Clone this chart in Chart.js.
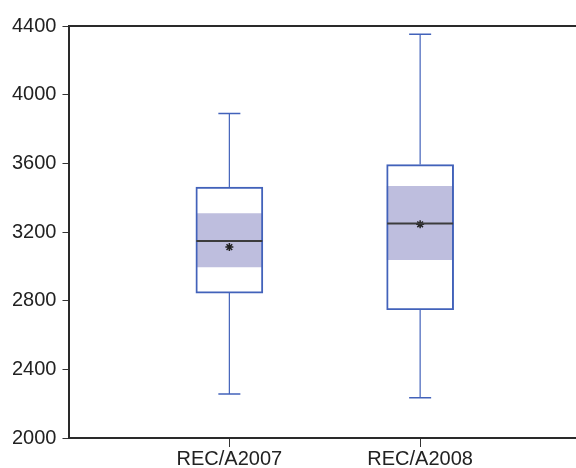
<!DOCTYPE html>
<html>
<head>
<meta charset="utf-8">
<script src="https://cdn.jsdelivr.net/npm/chart.js@4/dist/chart.umd.min.js"></script>
<style>
  html, body { margin: 0; padding: 0; background: #fff; }
  #wrap { width: 576px; height: 468px; position: relative; }
</style>
</head>
<body>
<div id="wrap"><canvas id="c" width="576" height="468"></canvas></div>
<script>
const categories = ['REC/A2007', 'REC/A2008'];
const xPositions = [1, 2];
const whiskerLow = [2257, 2235];
const q1 = [2844, 2747];
const ciLow = [2996, 3039];
const median = [3147, 3249];
const ciHigh = [3307, 3466];
const q3 = [3462, 3593];
const whiskerHigh = [3891, 4352];
const mean = [3112, 3245];
const yTicks = [2000, 2400, 2800, 3200, 3600, 4000, 4400];

const BLUE = 'rgb(66,98,186)';
const SHADE = 'rgb(190,190,222)';
const FONT = 'Liberation Sans, Arial, sans-serif';

function segs(a, b) {
  const out = [];
  xPositions.forEach((x, i) => {
    out.push({x: x, y: a[i]}, {x: x, y: b[i]});
    if (i < xPositions.length - 1) out.push({x: x + 0.5, y: null});
  });
  return out;
}
const pts = arr => xPositions.map((x, i) => ({x: x, y: arr[i]}));

const topBorder = {
  id: 'topBorder',
  afterDraw(chart) {
    const {ctx, chartArea} = chart;
    ctx.save();
    ctx.strokeStyle = '#2a2a2a';
    ctx.lineWidth = 2;
    ctx.beginPath();
    ctx.moveTo(chartArea.left - 1, chartArea.top);
    ctx.lineTo(chartArea.right, chartArea.top);
    ctx.stroke();
    ctx.restore();
  }
};

new Chart(document.getElementById('c'), {
  type: 'bar',
  plugins: [topBorder],
  data: {
    datasets: [
      { type: 'line', label: 'median', data: pts(median), showLine: false,
        pointStyle: 'line', pointRadius: 33, pointBorderColor: '#3c3c3c', pointBorderWidth: 2, order: 0 },
      { type: 'line', label: 'mean', data: pts(mean), showLine: false,
        pointStyle: 'star', pointRadius: 4, pointBorderColor: '#222', pointBorderWidth: 1.5, order: 1 },
      { type: 'bar', label: 'box', data: xPositions.map((x, i) => ({x: x, y: [q1[i], q3[i]]})),
        backgroundColor: 'rgba(0,0,0,0)', borderColor: BLUE, borderWidth: 1.3, borderSkipped: false,
        barThickness: 67, grouped: false, order: 2 },
      { type: 'bar', label: 'ci', data: xPositions.map((x, i) => ({x: x, y: [ciLow[i], ciHigh[i]]})),
        backgroundColor: SHADE, borderWidth: 0, barThickness: 66, grouped: false, order: 3 },
      { type: 'line', label: 'upper whisker', data: segs(q3, whiskerHigh), spanGaps: false,
        borderColor: BLUE, borderWidth: 1.2, pointRadius: 0, order: 4 },
      { type: 'line', label: 'lower whisker', data: segs(whiskerLow, q1), spanGaps: false,
        borderColor: BLUE, borderWidth: 1.2, pointRadius: 0, order: 4 },
      { type: 'line', label: 'caps', data: pts(whiskerHigh).concat(pts(whiskerLow)), showLine: false,
        pointStyle: 'line', pointRadius: 11, pointBorderColor: BLUE, pointBorderWidth: 1.5, order: 4 }
    ]
  },
  options: {
    responsive: false,
    animation: false,
    layout: { autoPadding: false, padding: { left: 6, right: 0, top: 26, bottom: -3 } },
    plugins: { legend: { display: false }, tooltip: { enabled: false } },
    scales: {
      x: {
        type: 'linear', position: 'bottom', min: 0.162, max: 2.817, offset: false, bounds: 'ticks',
        afterBuildTicks: axis => { axis.ticks = xPositions.map(v => ({value: v})); },
        ticks: {
          callback: v => categories[xPositions.indexOf(v)],
          color: '#222', font: { family: FONT, size: 20, lineHeight: 1.0 }, padding: 2,
          maxRotation: 0, autoSkip: false
        },
        grid: { drawOnChartArea: false, offset: false, tickLength: 9, tickColor: '#333', tickWidth: 1 },
        border: { display: true, color: '#2a2a2a', width: 2 }
      },
      y: {
        type: 'linear', min: 2000, max: 4400,
        afterBuildTicks: axis => { axis.ticks = yTicks.map(v => ({value: v})); },
        ticks: { color: '#222', font: { family: FONT, size: 20 }, padding: 6, callback: v => String(v) },
        grid: { drawOnChartArea: false, tickLength: 7, tickColor: '#333', tickWidth: 1 },
        border: { display: true, color: '#2a2a2a', width: 2 }
      }
    }
  }
});
</script>
</body>
</html>
